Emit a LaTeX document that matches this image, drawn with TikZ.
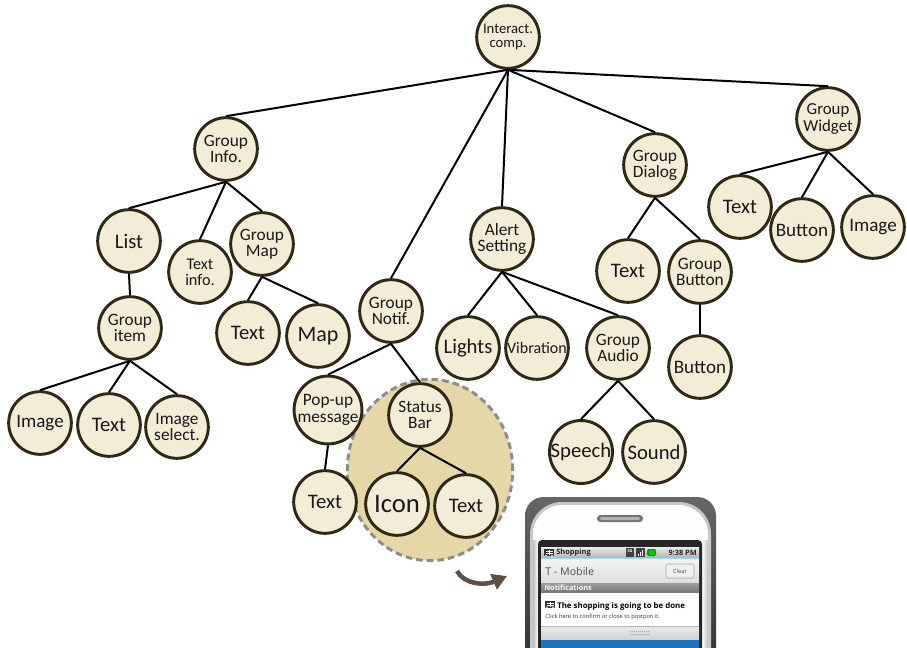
\documentclass[tikz,border=0pt]{standalone}
\usepackage{fontspec}
\setmainfont{Carlito}
\newfontfamily\droid{Open Sans}
\usepackage{tikz}
\usetikzlibrary{arrows.meta}

\definecolor{nodefill}{HTML}{F3ECD6}
\definecolor{nodeline}{HTML}{2E2914}
\definecolor{zoomfill}{HTML}{E6D7A8}
\definecolor{zoomline}{HTML}{8C8C8C}
\definecolor{arrowbrown}{HTML}{5E5245}
\definecolor{screenblue}{HTML}{1E73BE}

\begin{document}
\begin{tikzpicture}[x=0.75pt,y=-0.75pt,
  tn/.style={circle,draw=nodeline,fill=nodefill,line width=2.2pt,minimum size=47pt,
    inner sep=0pt,align=center,text=black!90,font=\fontsize{13}{12.2}\selectfont},
  big/.style={font=\fontsize{15.5}{15}\selectfont},
  mid/.style={font=\fontsize{14.3}{15}\selectfont},
  edge/.style={line width=1.5pt},
  ptxt/.style={inner sep=0pt,anchor=west}]
\clip (0,0) rectangle (907,647);

% zoom region behind the status bar subtree
\draw[zoomline,fill=zoomfill,line width=2.2pt,dash pattern=on 5pt off 3pt]
  (430,470) ellipse [x radius=62pt,y radius=68pt];

% tree
\node[tn,font=\fontsize{11}{11.2}\selectfont] (root) at (508,37) {Interact.\\comp.};
\node[tn] (ginfo) at (226,149) {Group\\Info.};
\node[tn,big] (list) at (129,241) {List};
\node[tn,font=\fontsize{12.2}{12}\selectfont] (tinfo) at (200,272) {Text\\info.};
\node[tn] (gmap) at (262,244) {Group\\Map};
\node[tn] (gitem) at (130,328) {Group\\item};
\node[tn,mid] (img1) at (40,423) {Image};
\node[tn,big] (txt1) at (109,425) {Text};
\node[tn] (imgsel) at (177,427) {Image\\select.};
\node[tn,big] (txt2) at (248,333) {Text};
\node[tn,font=\fontsize{16.5}{15}\selectfont] (map) at (318,336) {Map};
\node[tn] (gnotif) at (391,311) {Group\\Notif.};
\node[tn] (popup) at (328,410) {Pop-up\\message};
\node[tn] (sbar) at (420,415) {Status\\Bar};
\node[tn,big] (txt3) at (325,502) {Text};
\node[tn,font=\fontsize{20}{20}\selectfont] (icon) at (397,504) {Icon};
\node[tn,big] (txt4) at (466,506) {Text};
\node[tn] (alert) at (502,239) {Alert\\Setting};
\node[tn,big] (lights) at (468,348) {Lights};
\node[tn,font=\fontsize{12}{12}\selectfont] (vib) at (537,348) {Vibration};
\node[tn] (gaudio) at (618,348) {Group\\Audio};
\node[tn,big] (speech) at (581,452) {Speech};
\node[tn,big] (sound) at (654,452) {Sound};
\node[tn] (gdialog) at (655,165) {Group\\Dialog};
\node[tn,big] (txt5) at (628,271) {Text};
\node[tn] (gbutton) at (700,272) {Group\\Button};
\node[tn,mid] (btn1) at (700,367) {Button};
\node[tn,font=\fontsize{12.6}{12.2}\selectfont] (gwidget) at (828,119) {Group\\Widget};
\node[tn,big] (txt6) at (740,207) {Text};
\node[tn,mid] (btn2) at (802,230) {Button};
\node[tn,mid] (img2) at (873,227) {Image};

\foreach \a/\b in {root/ginfo,root/gnotif,root/alert,root/gdialog,root/gwidget,
    ginfo/list,ginfo/tinfo,ginfo/gmap,list/gitem,gitem/img1,gitem/txt1,gitem/imgsel,
    gmap/txt2,gmap/map,gnotif/popup,gnotif/sbar,popup/txt3,sbar/icon,sbar/txt4,
    alert/lights,alert/vib,alert/gaudio,gaudio/speech,gaudio/sound,
    gdialog/txt5,gdialog/gbutton,gbutton/btn1,gwidget/txt6,gwidget/btn2,gwidget/img2}
  \draw[edge] (\a.south) -- (\b.north);

% arrow to the phone
\coordinate (arrS) at (457,571);
\coordinate (arrE) at (507,576);
\draw[arrowbrown,line width=3.4pt,-{Triangle[length=11pt,width=12pt]}]
  (arrS) .. controls (464,584) and (484,586) .. (arrE);

% phone body
\shade[rounded corners=14pt,top color=black!60,bottom color=black!85] (525,497) rectangle (716,700);
\fill[black!22,rounded corners=24pt] (530,502) rectangle (711,700);
\shade[rounded corners=22pt,top color=white,bottom color=black!6] (533,505) rectangle (708,700);
\shade[left color=black!25,right color=white] (533,540) rectangle (538,700);
\shade[left color=white,right color=black!25] (702,540) rectangle (708,700);
\fill[black!55,rounded corners=2.5pt] (597,515) rectangle (643,522);
\fill[black!30,rounded corners=1.5pt] (600,517) rectangle (640,520);

% screen
\fill[black!85,rounded corners=3pt] (538,540) rectangle (702,700);
\shade[top color=black!8,bottom color=black!30] (541,547) rectangle (699,558);
\shade[top color=black!4,bottom color=black!13] (541,558) rectangle (699,583);
\draw[cyan!40,line width=0.6pt] (541,558.5) -- (699,558.5);
\shade[top color=black!38,bottom color=black!55] (541,583) rectangle (699,593);
\fill[white] (541,593) rectangle (699,626);
\shade[top color=black!8,bottom color=black!18] (541,626) rectangle (699,640);
\draw[black!30,line width=0.4pt] (541,626) -- (699,626);
\foreach \gx in {630,632,...,648} \fill[black!35] (\gx,631) rectangle (\gx+1,632) (\gx,634) rectangle (\gx+1,635);
\fill[screenblue] (541,640) rectangle (699,700);

% cart icons
\foreach \cx/\cy in {549/553,550/605} {
  \fill[black!80] (\cx-5,\cy-4) rectangle (\cx+5,\cy+3);
  \draw[white,line width=0.4pt] (\cx-3,\cy-2) -- (\cx+4,\cy-2) (\cx-3,\cy) -- (\cx+4,\cy)
    (\cx,\cy-3) -- (\cx,\cy+2);
  \fill[white] (\cx-3,\cy+2.2) circle (0.6pt) (\cx+3,\cy+2.2) circle (0.6pt);
}
% status icons
\fill[black!75] (626,547.5) rectangle (634,557);
\node[inner sep=0pt,text=white,font=\droid\bfseries\fontsize{3}{3}\selectfont] (net) at (630,551) {3G};
\fill[black!75] (636,548) rectangle (645,557);
\foreach \bx/\bh in {638/2,640/4,642/6} \fill[white] (\bx,556) rectangle (\bx+1.2,556-\bh);
\fill[green!60!black,rounded corners=1pt] (647,549) rectangle (656,556);
\fill[green!80!black] (648.5,550) rectangle (654.5,555);

\node[ptxt,font=\droid\bfseries\fontsize{5.6}{6}\selectfont,text=black!85] (appname) at (556,553) {Shopping};
\node[ptxt,anchor=east,font=\droid\bfseries\fontsize{5.5}{6}\selectfont,text=black!85] (clock) at (697,553) {9:38 PM};
\node[ptxt,font=\droid\fontsize{8}{9}\selectfont,text=black!70] (carrier) at (545,571) {T - Mobile};
\draw[black!35,fill=black!6,rounded corners=1.5pt,line width=0.4pt] (666,564) rectangle (694,578);
\node[inner sep=0pt,font=\droid\fontsize{4.3}{5}\selectfont,text=black!70] (clear) at (680,571) {Clear};
\node[ptxt,font=\droid\bfseries\fontsize{5.5}{6}\selectfont,text=white] (notif) at (544,588) {Notifications};
\node[ptxt,font=\droid\bfseries\fontsize{5.9}{6}\selectfont,text=black] (msg) at (557,606) {The shopping is going to be done};
\node[ptxt,font=\droid\fontsize{4.3}{5}\selectfont,text=black!80] (hint) at (545,617) {Click here to confirm or close to postpon it.};
\end{tikzpicture}
\end{document}
